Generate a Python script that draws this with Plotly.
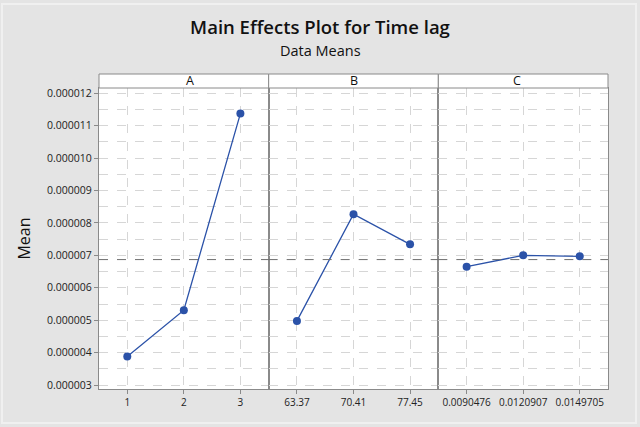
import plotly.graph_objects as go
from plotly.subplots import make_subplots

# factor levels and data means
factors = ['A', 'B', 'C']
level_labels = [
    ['1', '2', '3'],
    ['63.37', '70.41', '77.45'],
    ['0.0090476', '0.0120907', '0.0149705'],
]
means_a = [3.88e-6, 5.31e-6, 11.37e-6]
means_b = [4.98e-6, 8.27e-6, 7.34e-6]
means_c = [6.65e-6, 7.00e-6, 6.97e-6]
grand_mean = 6.87e-6

y_ticks = [3e-6, 4e-6, 5e-6, 6e-6, 7e-6, 8e-6, 9e-6, 10e-6, 11e-6, 12e-6]

line_blue = '#2b52a8'
frame_grey = '#8a8a8a'
grid_grey = '#d6d6d6'
font_family = 'Open Sans'

fig = make_subplots(rows=1, cols=3, shared_yaxes=True, horizontal_spacing=0)

for i, vals in enumerate([means_a, means_b, means_c]):
    col = i + 1
    fig.add_trace(go.Scatter(
        x=[1, 2, 3],
        y=vals,
        mode='lines+markers',
        line=dict(color=line_blue, width=1.3),
        marker=dict(color=line_blue, size=8),
        showlegend=False,
        hoverinfo='skip'
    ), row=1, col=col)

    fig.update_xaxes(
        range=[0.5, 3.5],
        tickmode='array',
        tickvals=[1, 2, 3],
        ticktext=level_labels[i],
        ticks='outside', ticklen=4, tickcolor=frame_grey,
        showline=True, mirror=True, linecolor=frame_grey, linewidth=1,
        showgrid=True, gridcolor=grid_grey, griddash='dash', gridwidth=1,
        zeroline=False, automargin=False,
        tickfont=dict(size=10, color='#222222', family=font_family),
        row=1, col=col
    )
    fig.update_yaxes(
        range=[2.88e-6, 12.16e-6],
        tickmode='array',
        tickvals=y_ticks,
        tickformat='.6f',
        ticks='outside' if col == 1 else '', ticklen=4, tickcolor=frame_grey,
        showline=True, mirror=True, linecolor=frame_grey, linewidth=1,
        showgrid=True, gridcolor=grid_grey, griddash='dash', gridwidth=1,
        minor=dict(dtick=0.5e-6, tick0=0, showgrid=True, gridcolor=grid_grey, griddash='dash'),
        zeroline=False, automargin=False,
        tickfont=dict(size=10.5, color='#222222', family=font_family),
        row=1, col=col
    )

    # grand mean reference line
    fig.add_hline(y=grand_mean, line=dict(color='#6e6e6e', width=1, dash='dash'), row=1, col=col)

fig.update_yaxes(title=dict(text='Mean', font=dict(size=16, color='#111111', family=font_family), standoff=12), row=1, col=1)

# panel header strips
strip_top = 1 + 14 / 301
for i, name in enumerate(factors):
    x0 = i / 3
    x1 = (i + 1) / 3
    fig.add_shape(type='rect', xref='paper', yref='paper', x0=x0, x1=x1, y0=1, y1=strip_top,
                  fillcolor='white', line=dict(color=frame_grey, width=1), layer='above')
    fig.add_annotation(x=(x0 + x1) / 2, y=(1 + strip_top) / 2, xref='paper', yref='paper',
                       text=name, showarrow=False, yanchor='middle',
                       font=dict(size=12.5, color='#111111', family=font_family))

# subtitle
fig.add_annotation(x=(320 - 99) / 509, y=1 + (88 - 51) / 301, xref='paper', yref='paper',
                   text='Data Means', showarrow=False, xanchor='center', yanchor='middle',
                   font=dict(size=14.5, color='#111111', family=font_family))

fig.add_shape(type='rect', xref='paper', yref='paper', x0=-97 / 509, x1=1 + 28 / 509,
              y0=-34 / 301, y1=1 + 84 / 301, line=dict(color='#f0f0f0', width=2),
              fillcolor='rgba(0,0,0,0)', layer='below')

fig.update_layout(
    width=640, height=427,
    margin=dict(l=99, r=32, t=88, b=38, autoexpand=False),
    paper_bgcolor='#e4e4e4',
    plot_bgcolor='white',
    title=dict(
        text='Main Effects Plot for Time lag',
        x=0.5, xanchor='center', xref='container',
        y=1 - 28 / 427, yanchor='middle', yref='container',
        font=dict(size=18.5, color='#111111', family=font_family, weight=600)
    ),
)

fig.write_html('out.html', config={'displayModeBar': False},
               post_script="document.body.style.margin='0';")
